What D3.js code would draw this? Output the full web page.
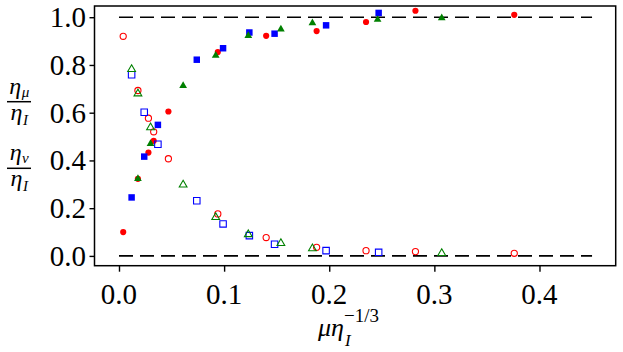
<!DOCTYPE html>
<html><head><meta charset="utf-8"><script src="https://cdn.jsdelivr.net/npm/d3@7"></script></head>
<body style="margin:0">
<script>
// Data (x = mu*eta_I^(-1/3))
// filled markers: eta_mu/eta_I, open markers: eta_nu/eta_I
const redX = [0.004, 0.018, 0.028, 0.033, 0.047, 0.094, 0.140, 0.188, 0.235, 0.282, 0.376];
const redMu = [0.10, 0.323, 0.433, 0.482, 0.605, 0.854, 0.922, 0.942, 0.98, 1.027, 1.01];
const redNu = [0.92, 0.693, 0.577, 0.52, 0.407, 0.176, 0.077, 0.036, 0.022, 0.018, 0.011];

const blueX = [0.012, 0.024, 0.037, 0.074, 0.099, 0.124, 0.148, 0.197, 0.247];
const blueMu = [0.245, 0.416, 0.549, 0.822, 0.87, 0.936, 0.931, 0.966, 1.018];
const blueNu = [0.759, 0.602, 0.468, 0.231, 0.134, 0.085, 0.049, 0.022, 0.015];

const greenX = [0.012, 0.018, 0.030, 0.061, 0.092, 0.123, 0.154, 0.184, 0.246, 0.307];
const greenMu = [null, 0.323, 0.47, 0.713, 0.84, 0.922, 0.95, 0.976, 0.99, 0.997];
const greenNu = [0.782, 0.68, 0.538, 0.298, 0.162, 0.09, 0.053, 0.031, null, 0.011];

const refLevels = [0, 1];
const refRange = [0, 0.45];
const xTicks = [0, 0.1, 0.2, 0.3, 0.4];
const yTicks = [0, 0.2, 0.4, 0.6, 0.8, 1.0];

const FONT = "Liberation Serif";
const W = 623, H = 352;
const margin = { top: 6, right: 7.3, bottom: 86.3, left: 94.5 };

const svg = d3.select("body").append("svg")
  .attr("width", W)
  .attr("height", H);

// text helper
function label(x, y, str, size, opts = {}) {
  return svg.append("text")
    .attr("x", x)
    .attr("y", y)
    .attr("text-anchor", opts.anchor || "start")
    .attr("font-family", FONT)
    .style("font-family", FONT, "important")
    .style("font-size", size + "px", "important")
    .style("font-style", opts.italic ? "italic" : "normal", "important")
    .attr("fill", "#000")
    .text(str);
}

const xScale = d3.scaleLinear()
  .domain([-0.0233, 0.4725])
  .range([margin.left, W - margin.right]);
const yScale = d3.scaleLinear()
  .domain([-0.041, 1.047])
  .range([H - margin.bottom, margin.top]);

// dashed reference lines
refLevels.forEach(v => {
  svg.append("line")
    .attr("x1", xScale(refRange[0]))
    .attr("x2", xScale(refRange[1]))
    .attr("y1", yScale(v))
    .attr("y2", yScale(v))
    .attr("stroke", "#000")
    .attr("stroke-width", 1.6)
    .attr("stroke-dasharray", "14,7");
});

// series
const series = [
  { x: redX, mu: redMu, nu: redNu, color: "#ff0000", shape: d3.symbolCircle, size: 30 },
  { x: blueX, mu: blueMu, nu: blueNu, color: "#0000ff", shape: d3.symbolSquare, size: 42 },
  { x: greenX, mu: greenMu, nu: greenNu, color: "#008000", shape: d3.symbolTriangle, size: 26 }
];

series.forEach(s => {
  const filled = s.x.map((x, i) => ({ x: x, y: s.mu[i] })).filter(d => d.y !== null);
  const open = s.x.map((x, i) => ({ x: x, y: s.nu[i] })).filter(d => d.y !== null);
  const sym = d3.symbol().type(s.shape).size(s.size);

  svg.append("g").selectAll("path")
    .data(filled)
    .join("path")
    .attr("d", sym)
    .attr("transform", d => `translate(${xScale(d.x)},${yScale(d.y)})`)
    .attr("fill", s.color);

  svg.append("g").selectAll("path")
    .data(open)
    .join("path")
    .attr("d", sym)
    .attr("transform", d => `translate(${xScale(d.x)},${yScale(d.y)})`)
    .attr("fill", "none")
    .attr("stroke", s.color)
    .attr("stroke-width", 1.1);
});

// frame
svg.append("rect")
  .attr("x", margin.left)
  .attr("y", margin.top)
  .attr("width", W - margin.left - margin.right)
  .attr("height", H - margin.top - margin.bottom)
  .attr("fill", "none")
  .attr("stroke", "#000")
  .attr("stroke-width", 1.5);

// axes: tick marks from d3, labels as separate text
const xAxis = svg.append("g")
  .attr("transform", `translate(0,${H - margin.bottom})`)
  .call(d3.axisBottom(xScale).tickValues(xTicks).tickFormat("").tickSize(6));
const yAxis = svg.append("g")
  .attr("transform", `translate(${margin.left},0)`)
  .call(d3.axisLeft(yScale).tickValues(yTicks).tickFormat("").tickSize(5));
[xAxis, yAxis].forEach(a => {
  a.select(".domain").remove();
  a.selectAll(".tick text").remove();
  a.selectAll(".tick line").attr("stroke", "#000").attr("stroke-width", 1.4);
});

xTicks.forEach(v => label(xScale(v), 304, d3.format(".1f")(v), 29, { anchor: "middle" }));
yTicks.forEach(v => label(86, yScale(v) + 10, d3.format(".1f")(v), 29, { anchor: "end" }));

// x axis label: mu eta_I^{-1/3}
const xl = label(318, 336, "μη", 26, { italic: true });
const xlEnd = 318 + xl.node().getComputedTextLength();
label(xlEnd + 1, 346, "I", 17, { italic: true });
label(xlEnd, 322, "−1/3", 19);

// y axis label: two stacked fractions, eta followed by its subscript
function etaWithSub(sub, baseY, subDy) {
  const cx = 19;
  const eta = label(0, baseY, "η", 24, { italic: true });
  const s = label(0, baseY + subDy, sub, 15, { italic: true });
  const w1 = eta.node().getComputedTextLength();
  const w2 = s.node().getComputedTextLength();
  const left = cx - (w1 + w2) / 2;
  eta.attr("x", left);
  s.attr("x", left + w1 + 0.5);
}
function fraction(sub, barY) {
  etaWithSub(sub, barY - 8, 3);
  svg.append("line")
    .attr("x1", 7).attr("x2", 31)
    .attr("y1", barY).attr("y2", barY)
    .attr("stroke", "#000")
    .attr("stroke-width", 1.5);
  etaWithSub("I", barY + 18, 5);
}
fraction("μ", 101.7);
fraction("ν", 168.3);
</script>
</body></html>
